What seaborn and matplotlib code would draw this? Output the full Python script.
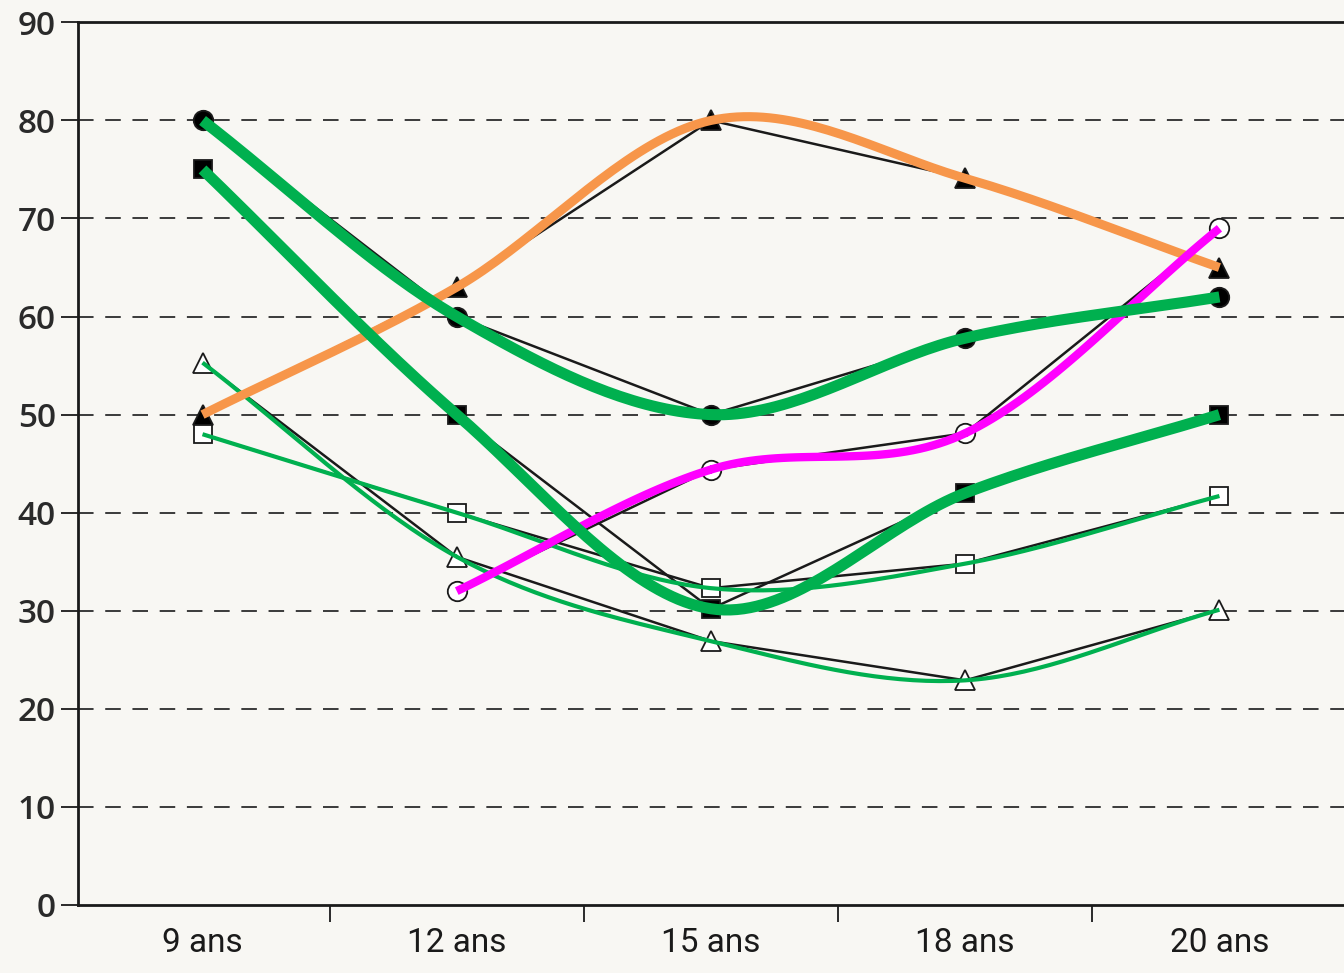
import numpy as np
import pandas as pd
import matplotlib
matplotlib.use("Agg")
import matplotlib.pyplot as plt
import seaborn as sns

# Valeurs
ages = ['9 ans', '12 ans', '15 ans', '18 ans', '20 ans']
cercle_plein = [80, 60, 50, 57.8, 62]
carre_plein = [75, 50, 30.2, 42, 50]
triangle_plein = [50, 63, 80, 74.1, 65]
triangle_vide = [55.3, 35.5, 26.9, 22.9, 30.1]
carre_vide = [48, 40, 32.3, 34.8, 41.7]
cercle_vide = [np.nan, 32, 44.4, 48.1, 69]
y_ticks = [0, 10, 20, 30, 40, 50, 60, 70, 80, 90]

paper = '#f8f7f3'
sns.set_style("white")
plt.rcParams['font.family'] = ['Open Sans', 'DejaVu Sans']

fig = plt.figure(figsize=(13.44, 9.73), dpi=100, facecolor=paper)
ax = fig.add_axes([0.058, 0.07, 0.942, 0.907])
ax.set_facecolor(paper)

x = np.arange(len(ages))


def smooth(xs, ys, n=40):
    # Catmull-Rom through the data points, for the hand-drawn colour curves
    pts = np.column_stack([xs, ys]).astype(float)
    pts = pts[~np.isnan(pts[:, 1])]
    pts = np.vstack([2 * pts[0] - pts[1], pts, 2 * pts[-1] - pts[-2]])
    t = np.linspace(0, 1, n)[:, None]
    out = []
    for i in range(1, len(pts) - 2):
        p0, p1, p2, p3 = pts[i - 1:i + 3]
        out.append(0.5 * (2 * p1 + (-p0 + p2) * t
                          + (2 * p0 - 5 * p1 + 4 * p2 - p3) * t ** 2
                          + (-p0 + 3 * p1 - 3 * p2 + p3) * t ** 3))
    return np.vstack(out)


# dashed horizontal guides
for v in y_ticks[1:-1]:
    ax.axhline(v, color='#3a3a3a', lw=1.4, ls=(0, (8, 6)), zorder=1)

series = [
    (cercle_plein, 'o', 'black', 14),
    (carre_plein, 's', 'black', 13),
    (triangle_plein, '^', 'black', 15),
    (triangle_vide, '^', 'white', 15),
    (carre_vide, 's', 'white', 13),
    (cercle_vide, 'o', 'white', 14),
]
for vals, m, fc, ms in series:
    df = pd.DataFrame({'x': x, 'y': vals}).dropna()
    sns.lineplot(data=df, x='x', y='y', ax=ax, color='#1a1a1a', lw=1.8,
                 marker=m, markersize=ms, markerfacecolor=fc,
                 markeredgecolor='#1a1a1a', markeredgewidth=1.3, zorder=2)

# colour curves drawn over the printed chart
overlays = [
    (carre_vide, '#00b04f', 3),
    (triangle_vide, '#00b04f', 3),
    (triangle_plein, '#f7964a', 6.5),
    (cercle_vide, '#ff00ff', 6),
    (carre_plein, '#00b04f', 8),
    (cercle_plein, '#00b04f', 8),
]
for vals, col, lw in overlays:
    c = smooth(x, vals)
    ax.plot(c[:, 0], c[:, 1], color=col, lw=lw, solid_capstyle='butt', zorder=3)

ax.set_xlim(-0.49, 4.49)
ax.set_ylim(0, 90)
ax.set_yticks(y_ticks)
ax.set_yticklabels([str(v) for v in y_ticks], fontsize=24, fontweight='semibold',
                   color='#2a2a2a')
ax.set_xticks(x)
ax.set_xticklabels(ages, fontsize=24, color='#1a1a1a',
                   family=['Liberation Sans Narrow', 'Roboto', 'DejaVu Sans'])
ax.set_xticks(x[:-1] + 0.5, minor=True)
ax.tick_params(axis='x', which='major', length=0, pad=16)
ax.tick_params(axis='x', which='minor', bottom=True, direction='out',
               length=12, width=1.3, color='#1a1a1a')
ax.tick_params(axis='y', left=True, direction='out', length=12, width=1.3,
               color='#1a1a1a', pad=4)
ax.set_xlabel('')
ax.set_ylabel('')

for side in ['left', 'bottom', 'top']:
    ax.spines[side].set_color('#1a1a1a')
    ax.spines[side].set_linewidth(2)
ax.spines['right'].set_visible(False)

plt.savefig("out.png", dpi=100, facecolor=paper)
